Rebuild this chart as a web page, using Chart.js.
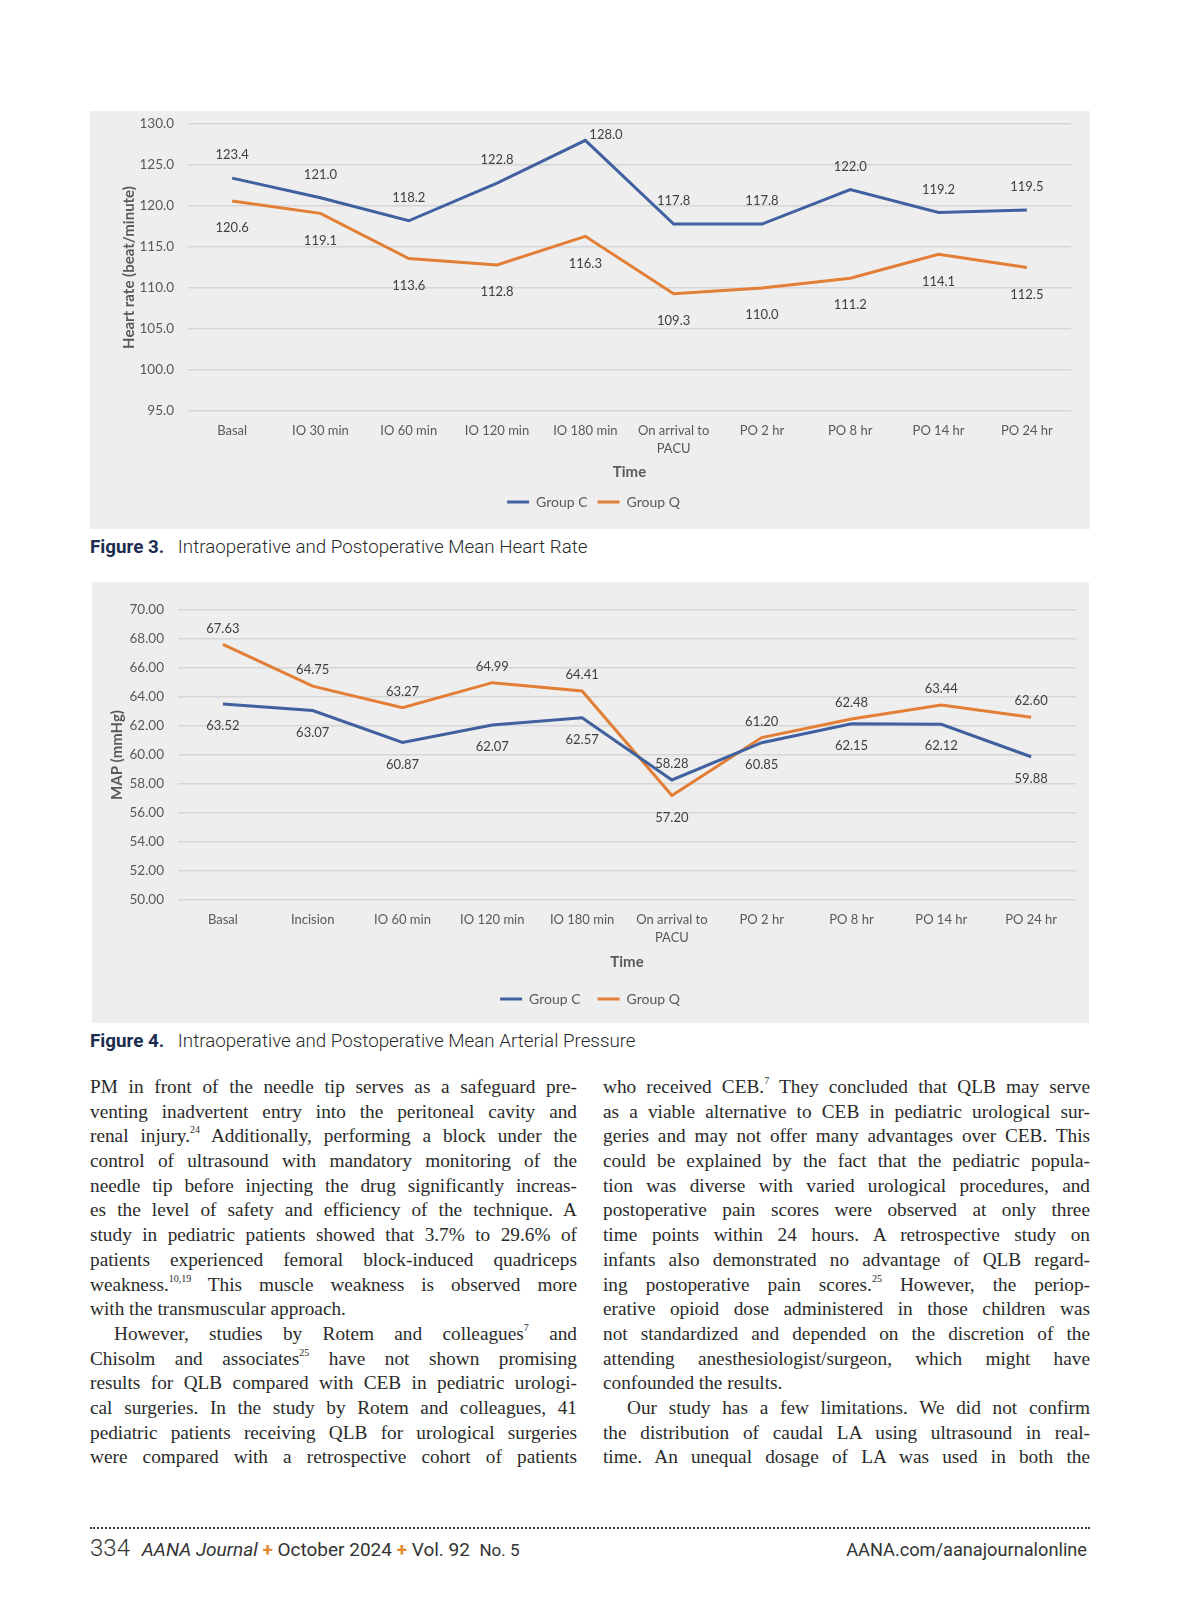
<!DOCTYPE html>
<html>
<head>
<meta charset="utf-8">
<script src="https://cdn.jsdelivr.net/npm/chart.js@4.4.1/dist/chart.umd.min.js"></script>
<style>
  html, body { margin: 0; padding: 0; background: #fff; }
  body { width: 1200px; height: 1606px; position: relative; overflow: hidden; }
  .chartBox { position: absolute; background: #eeeeee; }
  .chartWrap { position: absolute; }
  .caption { position: absolute; left: 90px; font-family: Roboto, "Liberation Sans", sans-serif; font-size: 18.8px; font-weight: 300; color: #2a2a2a; white-space: nowrap; }
  .caption b { color: #1b2d4f; font-weight: 700; margin-right: 9px; }
  .col { position: absolute; top: 1075px; width: 487px; font-family: "Liberation Serif", serif; font-size: 19.3px; color: #2a2a2a; }
  .col div { height: 24.7px; line-height: 24.7px; text-align: justify; text-align-last: justify; }
  .col div.last { text-align-last: left; }
  .col div.ind { text-indent: 24px; }
  .col sup { font-size: 10px; line-height: 0; vertical-align: 9px; }
  .dots { position: absolute; left: 90px; top: 1527px; width: 1000px; border-top: 2px dotted #2d4242; }
  .foot { position: absolute; top: 1534px; font-family: Roboto, "Liberation Sans", sans-serif; color: #333; white-space: nowrap; }
  .foot .pg { font-size: 24px; font-weight: 300; }
  .foot .plus { color: #e3892f; font-weight: 700; }
</style>
</head>
<body>

<div class="chartBox" style="left:90px; top:111px; width:1000px; height:418px;"></div>
<div class="chartWrap" style="left:90px; top:101px; width:1000px; height:428px;">
  <canvas id="hrChart"></canvas>
</div>
<div class="caption" style="top:536px;"><b>Figure 3.</b> Intraoperative and Postoperative Mean Heart Rate</div>

<div class="chartBox" style="left:92px; top:582px; width:997px; height:441px;"></div>
<div class="chartWrap" style="left:92px; top:582px; width:997px; height:441px;">
  <canvas id="mapChart"></canvas>
</div>
<div class="caption" style="top:1030px;"><b>Figure 4.</b> Intraoperative and Postoperative Mean Arterial Pressure</div>

<div class="col" style="left:90px;">
  <div>PM in front of the needle tip serves as a safeguard pre-</div>
  <div>venting inadvertent entry into the peritoneal cavity and</div>
  <div>renal injury.<sup>24</sup> Additionally, performing a block under the</div>
  <div>control of ultrasound with mandatory monitoring of the</div>
  <div>needle tip before injecting the drug significantly increas-</div>
  <div>es the level of safety and efficiency of the technique. A</div>
  <div>study in pediatric patients showed that 3.7% to 29.6% of</div>
  <div>patients experienced femoral block-induced quadriceps</div>
  <div>weakness.<sup>10,19</sup> This muscle weakness is observed more</div>
  <div class="last">with the transmuscular approach.</div>
  <div class="ind">However, studies by Rotem and colleagues<sup>7</sup> and</div>
  <div>Chisolm and associates<sup>25</sup> have not shown promising</div>
  <div>results for QLB compared with CEB in pediatric urologi-</div>
  <div>cal surgeries. In the study by Rotem and colleagues, 41</div>
  <div>pediatric patients receiving QLB for urological surgeries</div>
  <div>were compared with a retrospective cohort of patients</div>
</div>

<div class="col" style="left:603px;">
  <div>who received CEB.<sup>7</sup> They concluded that QLB may serve</div>
  <div>as a viable alternative to CEB in pediatric urological sur-</div>
  <div>geries and may not offer many advantages over CEB. This</div>
  <div>could be explained by the fact that the pediatric popula-</div>
  <div>tion was diverse with varied urological procedures, and</div>
  <div>postoperative pain scores were observed at only three</div>
  <div>time points within 24 hours. A retrospective study on</div>
  <div>infants also demonstrated no advantage of QLB regard-</div>
  <div>ing postoperative pain scores.<sup>25</sup> However, the periop-</div>
  <div>erative opioid dose administered in those children was</div>
  <div>not standardized and depended on the discretion of the</div>
  <div>attending anesthesiologist/surgeon, which might have</div>
  <div class="last">confounded the results.</div>
  <div class="ind">Our study has a few limitations. We did not confirm</div>
  <div>the distribution of caudal LA using ultrasound in real-</div>
  <div>time. An unequal dosage of LA was used in both the</div>
</div>

<div class="dots"></div>
<div class="foot" style="left:90px;">
  <span class="pg">334</span>&nbsp;&nbsp;
  <span style="font-size:19px;"><i>AANA Journal</i> <span class="plus">+</span> October 2024 <span class="plus">+</span> Vol. 92&nbsp; <span style="font-size:17px;">No. 5</span></span>
</div>
<div class="foot" style="right:113px; top:1539px; font-size:18.2px;">AANA.com/aanajournalonline</div>

<script>
// chart data
const hrLabels = ["Basal", "IO 30 min", "IO 60 min", "IO 120 min", "IO 180 min", ["On arrival to", "PACU"], "PO 2 hr", "PO 8 hr", "PO 14 hr", "PO 24 hr"];
const hrGroupC = [123.4, 121.0, 118.2, 122.8, 128.0, 117.8, 117.8, 122.0, 119.2, 119.5];
const hrGroupQ = [120.6, 119.1, 113.6, 112.8, 116.3, 109.3, 110.0, 111.2, 114.1, 112.5];
const hrTicks = [95, 100, 105, 110, 115, 120, 125, 130];

const mapLabels = ["Basal", "Incision", "IO 60 min", "IO 120 min", "IO 180 min", ["On arrival to", "PACU"], "PO 2 hr", "PO 8 hr", "PO 14 hr", "PO 24 hr"];
const mapGroupC = [63.52, 63.07, 60.87, 62.07, 62.57, 58.28, 60.85, 62.15, 62.12, 59.88];
const mapGroupQ = [67.63, 64.75, 63.27, 64.99, 64.41, 57.20, 61.20, 62.48, 63.44, 62.60];
const mapTicks = [50, 52, 54, 56, 58, 60, 62, 64, 66, 68, 70];

const BLUE = "#40609f";
const ORANGE = "#e37e36";
const FONT = "Lato, 'Open Sans', sans-serif";

// value labels: the higher of the two series at each point gets its label above, the lower one below.
// if there is no room above, the label goes to the right of the point (as Excel does)
const valueLabels = {
    id: "valueLabels",
    afterDatasetsDraw(chart, args, opts) {
        const ctx = chart.ctx;
        const sets = chart.data.datasets;
        const top = chart.chartArea.top;
        ctx.save();
        ctx.font = "13px " + FONT;
        ctx.fillStyle = "#404040";
        ctx.textBaseline = "middle";
        sets.forEach((ds, i) => {
            const other = sets[1 - i].data;
            chart.getDatasetMeta(i).data.forEach((pt, j) => {
                const txt = ds.data[j].toFixed(opts.decimals);
                const isUpper = ds.data[j] >= other[j];
                if (isUpper && pt.y - opts.above < top) {
                    ctx.textAlign = "left";
                    ctx.fillText(txt, pt.x + 4, pt.y - 6);
                } else {
                    ctx.textAlign = "center";
                    ctx.fillText(txt, pt.x, pt.y + (isUpper ? -opts.above : opts.below));
                }
            });
        });
        ctx.restore();
    }
};

function makeChart(id, labels, c, q, ticks, yTitle, opts) {
    const ctx = document.getElementById(id);
    return new Chart(ctx, {
        type: "line",
        data: {
            labels: labels,
            datasets: [
                { label: "Group C", data: c, borderColor: BLUE, backgroundColor: BLUE, borderWidth: 3, pointRadius: 0, tension: 0 },
                { label: "Group Q", data: q, borderColor: ORANGE, backgroundColor: ORANGE, borderWidth: 3, pointRadius: 0, tension: 0 }
            ]
        },
        options: {
            responsive: true,
            maintainAspectRatio: false,
            animation: false,
            layout: { padding: opts.padding },
            plugins: {
                tooltip: { enabled: false },
                valueLabels: { decimals: opts.decimals, above: opts.above, below: opts.below },
                legend: {
                    position: "bottom",
                    labels: {
                        usePointStyle: true,
                        pointStyle: "line",
                        pointStyleWidth: 22,
                        padding: opts.legendPad,
                        color: "#595959",
                        font: { family: FONT, size: 14 }
                    }
                }
            },
            scales: {
                x: {
                    offset: true,
                    grid: { display: false, drawTicks: false },
                    border: { display: false },
                    ticks: { color: "#595959", padding: 10, maxRotation: 0, autoSkip: false,
                             font: { family: FONT, size: 13, lineHeight: 1.45 } },
                    title: { display: true, text: "Time", color: "#595959",
                             font: { family: FONT, size: 15, weight: "bold" } },
                    afterFit(scale) { scale.height = opts.xHeight; }
                },
                y: {
                    min: ticks[0],
                    max: ticks[ticks.length - 1],
                    afterBuildTicks(scale) { scale.ticks = ticks.map(v => ({ value: v })); },
                    grid: { color: "#d6d6d6", lineWidth: 1.5, drawTicks: false },
                    border: { display: false },
                    ticks: { color: "#595959", padding: 14, font: { family: FONT, size: 13.5 },
                             callback: v => v.toFixed(opts.decimals) },
                    title: { display: true, text: yTitle, color: "#595959",
                             font: { family: FONT, size: 15, weight: "bold" } },
                    afterFit(scale) { scale.width = opts.yWidth; }
                }
            }
        },
        plugins: [valueLabels]
    });
}

makeChart("hrChart", hrLabels, hrGroupC, hrGroupQ, hrTicks, "Heart rate (beat/minute)", {
    decimals: 1, above: 23, below: 27,
    padding: { left: 26, right: 19, top: 23, bottom: 10 },
    legendPad: 10, xHeight: 74, yWidth: 72
});

makeChart("mapChart", mapLabels, mapGroupC, mapGroupQ, mapTicks, "MAP (mmHg)", {
    decimals: 2, above: 16, below: 22,
    padding: { left: 12, right: 13, top: 28, bottom: 7 },
    legendPad: 17, xHeight: 75, yWidth: 74
});
</script>
</body>
</html>
